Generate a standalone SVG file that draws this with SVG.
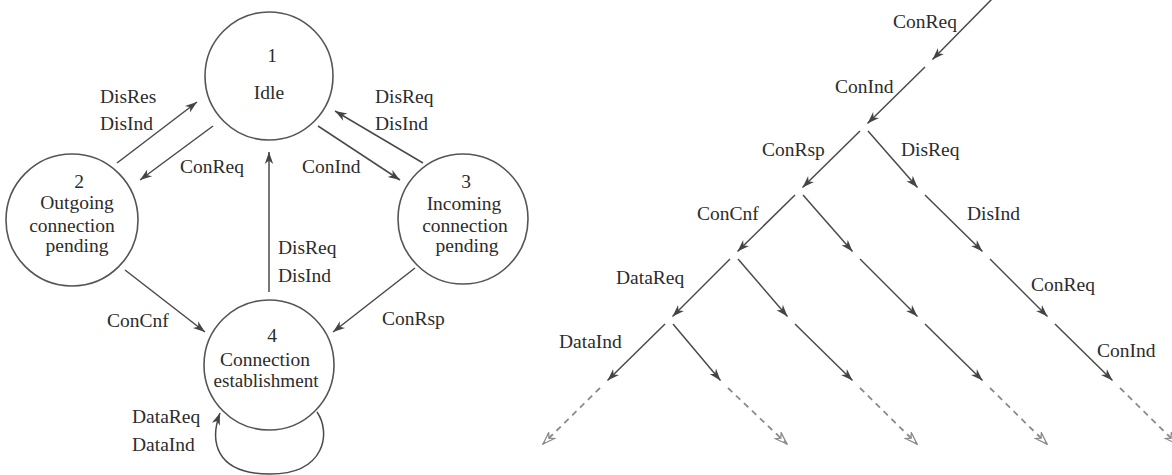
<svg xmlns="http://www.w3.org/2000/svg" width="1172" height="475" viewBox="0 0 1172 475">
<style>
text{font-family:"Liberation Serif","Times New Roman",serif;font-size:19.5px;fill:#2c2c2c}
.m{text-anchor:middle}
.st{fill:none;stroke:#555;stroke-width:1.6}
.ln{fill:none;stroke:#4a4a4a;stroke-width:1.5}
.ds{fill:none;stroke:#8a8a8a;stroke-width:1.8;stroke-dasharray:6 5}
</style>
<defs>
<marker id="ah" viewBox="-13 -5 14 10" refX="0" refY="0" markerWidth="14" markerHeight="10" markerUnits="userSpaceOnUse" orient="auto">
<path d="M0,0 L-12,-4.2 L-8.5,0 L-12,4.2 Z" fill="#444"/>
</marker>
<marker id="ahd" viewBox="-13 -5 14 10" refX="0" refY="0" markerWidth="14" markerHeight="10" markerUnits="userSpaceOnUse" orient="auto">
<path d="M0,0 L-12,-4.2 L-8.5,0 L-12,4.2 Z" fill="none" stroke="#8a8a8a" stroke-width="1.3"/>
</marker>
</defs>
<rect width="1172" height="475" fill="#fff"/>

<!-- left state diagram nodes -->
<g id="s1"><circle class="st" cx="269" cy="76" r="64"/><text class="m" x="272" y="62">1</text><text class="m" x="269" y="99">Idle</text></g>
<g id="s2"><circle class="st" cx="72" cy="220" r="66"/><text class="m" x="79" y="188">2</text><text class="m" x="77" y="209">Outgoing</text><text class="m" x="72" y="232">connection</text><text class="m" x="77" y="252">pending</text></g>
<g id="s3"><circle class="st" cx="463" cy="219" r="65"/><text class="m" x="466" y="188">3</text><text class="m" x="464" y="210">Incoming</text><text class="m" x="465" y="232">connection</text><text class="m" x="467" y="252">pending</text></g>
<g id="s4"><circle class="st" cx="269" cy="365" r="65"/><text class="m" x="272" y="342">4</text><text class="m" x="265" y="366">Connection</text><text class="m" x="266" y="387" textLength="105" lengthAdjust="spacingAndGlyphs">establishment</text></g>

<g id="connectors">
<path class="ln" d="M117,163 L197,102" marker-end="url(#ah)"/>
<path class="ln" d="M213,126 L140,180" marker-end="url(#ah)"/>
<path class="ln" d="M318,126 L400,180" marker-end="url(#ah)"/>
<path class="ln" d="M423,163 L335,111" marker-end="url(#ah)"/>
<path class="ln" d="M269,292 L269,152" marker-end="url(#ah)"/>
<path class="ln" d="M125,270 L205,332" marker-end="url(#ah)"/>
<path class="ln" d="M415,268 L333,332" marker-end="url(#ah)"/>
<path class="ln" d="M317,412 C331,432 326,474 270,474 C214,474 210,440 220,413" marker-end="url(#ah)"/>

<!-- right tree -->
<path class="ln" d="M992,-1 L932.5,59.5" marker-end="url(#ah)"/>
<path class="ln" d="M925,67 L867.5,123.5" marker-end="url(#ah)"/>
<path class="ln" d="M860,131 L802.5,187.5" marker-end="url(#ah)"/>
<path class="ln" d="M868,131 L917.5,187.5" marker-end="url(#ah)"/>
<path class="ln" d="M795,195 L737.5,251.5" marker-end="url(#ah)"/>
<path class="ln" d="M803,195 L852.5,251.5" marker-end="url(#ah)"/>
<path class="ln" d="M925,195 L982.5,251.5" marker-end="url(#ah)"/>
<path class="ln" d="M730,259 L672.5,316.5" marker-end="url(#ah)"/>
<path class="ln" d="M738,259 L787.5,316.5" marker-end="url(#ah)"/>
<path class="ln" d="M860,259 L917.5,316.5" marker-end="url(#ah)"/>
<path class="ln" d="M990,259 L1047.5,316.5" marker-end="url(#ah)"/>
<path class="ln" d="M665,324 L607.5,380.5" marker-end="url(#ah)"/>
<path class="ln" d="M673,324 L720.5,380.5" marker-end="url(#ah)"/>
<path class="ln" d="M795,324 L852.5,380.5" marker-end="url(#ah)"/>
<path class="ln" d="M925,324 L982.5,380.5" marker-end="url(#ah)"/>
<path class="ln" d="M1055,324 L1112.5,380.5" marker-end="url(#ah)"/>
<path class="ds" d="M600,388 L543,444" marker-end="url(#ahd)"/>
<path class="ds" d="M728,388 L787,444" marker-end="url(#ahd)"/>
<path class="ds" d="M860,388 L917,444" marker-end="url(#ahd)"/>
<path class="ds" d="M990,388 L1047,444" marker-end="url(#ahd)"/>
<path class="ds" d="M1120,388 L1177,444" marker-end="url(#ahd)"/>
</g>

<g id="labels-left">
<text x="100" y="103">DisRes</text>
<text x="100" y="130">DisInd</text>
<text x="180" y="173">ConReq</text>
<text x="302" y="173">ConInd</text>
<text x="375" y="103">DisReq</text>
<text x="375" y="130">DisInd</text>
<text x="278" y="254">DisReq</text>
<text x="278" y="282">DisInd</text>
<text x="107" y="327">ConCnf</text>
<text x="382" y="325">ConRsp</text>
<text x="132" y="423">DataReq</text>
<text x="132" y="451">DataInd</text>
</g>

<g id="labels-right">
<text x="893" y="28">ConReq</text>
<text x="835" y="93">ConInd</text>
<text x="762" y="156">ConRsp</text>
<text x="901" y="156">DisReq</text>
<text x="697" y="220">ConCnf</text>
<text x="967" y="220">DisInd</text>
<text x="616" y="284">DataReq</text>
<text x="1031" y="291">ConReq</text>
<text x="559" y="348">DataInd</text>
<text x="1097" y="357">ConInd</text>
</g>
</svg>
